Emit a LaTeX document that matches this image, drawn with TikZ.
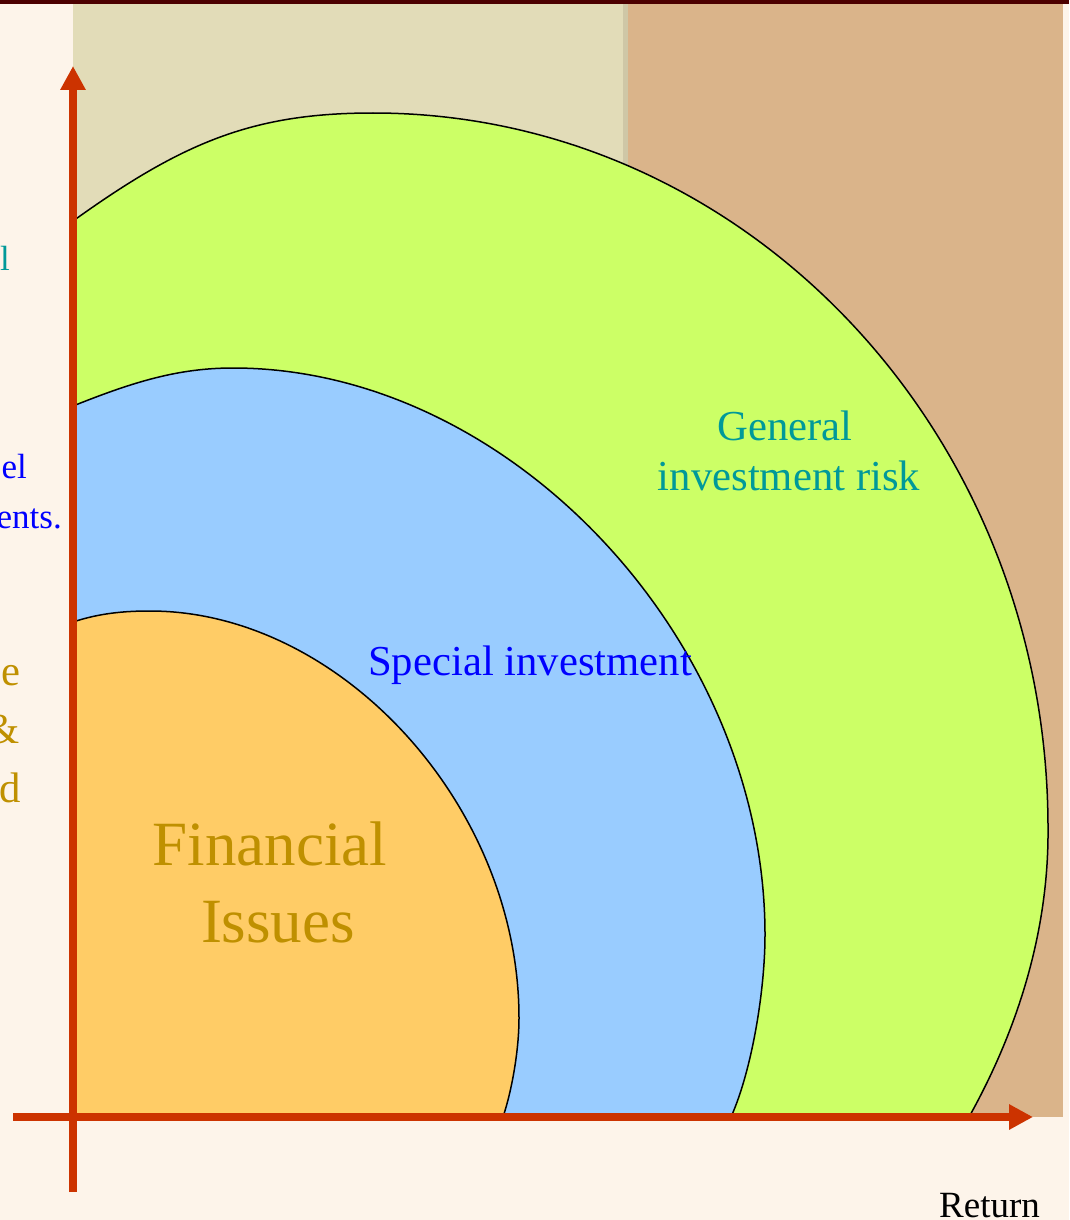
\documentclass[tikz,border=0pt]{standalone}
\usepackage{fontspec}
\setmainfont{Liberation Serif}
\usetikzlibrary{arrows.meta}
\definecolor{pagecream}{HTML}{FDF4EA}
\definecolor{topbar}{HTML}{4C0000}
\definecolor{paperbeige}{HTML}{E2DCB8}
\definecolor{paperedge}{HTML}{CFC7A6}
\definecolor{papertan}{HTML}{DAB48A}
\definecolor{axisred}{HTML}{CC3300}
\definecolor{greenfill}{HTML}{CCFF66}
\definecolor{bluefill}{HTML}{99CCFF}
\definecolor{orangefill}{HTML}{FFCC66}
\definecolor{tealtext}{HTML}{009999}
\definecolor{bluetext}{HTML}{0000FF}
\definecolor{goldtext}{HTML}{BF9000}
\tikzset{
    lbl/.style = {inner sep=0pt, anchor=base, font=\fontsize{42.7}{50}\selectfont},
    lblcut/.style = {lbl, anchor=base east},
    smalllbl/.style = {lblcut, font=\fontsize{35}{42}\selectfont},
    biglbl/.style = {lbl, font=\fontsize{63}{77}\selectfont},
    band/.style = {draw=black, line width=1.5pt},
    axisline/.style = {draw=axisred, line width=8pt, -{Triangle[length=24pt,width=24pt]}}
}

\begin{document}
\begin{tikzpicture}[x=1pt, y=-1pt]
    \useasboundingbox (0,0) rectangle (1069,1220);
    \fill[pagecream] (0,0) rectangle (1069,1220);
    \fill[paperbeige] (73,4) rectangle (628,1117);
    \fill[paperedge] (623,4) rectangle (628,1117);
    \fill[papertan] (628,4) rectangle (1063,1117);
    \fill[topbar] (0,0) rectangle (1069,4);

    % risk bands
    \begin{scope}
        \clip (73,4) rectangle (1069,1117);
        \filldraw[band, fill=greenfill] (73,1117) -- (73,221)
            .. controls (183,142) and (253,113) .. (373,113)
            .. controls (746,113) and (1048,433) .. (1048,828)
            .. controls (1049,940) and (1012,1040) .. (969,1117) -- cycle;
        \filldraw[band, fill=bluefill] (73,1117) -- (73,406)
            .. controls (133,382) and (178,368) .. (233,368)
            .. controls (510,368) and (765,640) .. (765,935)
            .. controls (765,990) and (752,1070) .. (731,1117) -- cycle;
        \filldraw[band, fill=orangefill] (73,1117) -- (73,622)
            .. controls (100,613) and (125,611) .. (150,611)
            .. controls (340,611) and (519,805) .. (519,1018)
            .. controls (519,1050) and (512,1090) .. (503,1117) -- cycle;
    \end{scope}

    % axes
    \coordinate (yfoot) at (73,1192);
    \coordinate (ytip) at (73,66);
    \coordinate (xfoot) at (13,1117);
    \coordinate (xtip) at (1033,1117);
    \draw[axisline] (yfoot) -- (ytip);
    \draw[axisline] (xfoot) -- (xtip);

    % labels
    \node[lbl, tealtext] (general1) at (785,440) {General};
    \node[lbl, tealtext] (general2) at (789,490) {investment risk};
    \node[lbl, bluetext, anchor=base west] (special) at (368,675) {Special investment};
    \node[biglbl, goldtext] (fin1) at (270,865) {Financial};
    \node[biglbl, goldtext] (fin2) at (278,942) {Issues};
    \node[lbl, anchor=base west, font=\fontsize{37}{44}\selectfont] (ret) at (939,1217) {Return};

    % side notes cut by the page edge
    \node[smalllbl, tealtext] (side1) at (10,270) {l};
    \node[smalllbl, bluetext] (side2) at (27,478) {el};
    \node[smalllbl, bluetext] (side3) at (62,528) {ents.};
    \node[lblcut, goldtext] (side4) at (21,685) {e};
    \node[lblcut, goldtext] (side5) at (20,743) {\&};
    \node[lblcut, goldtext] (side6) at (21,802) {d};
\end{tikzpicture}
\end{document}
